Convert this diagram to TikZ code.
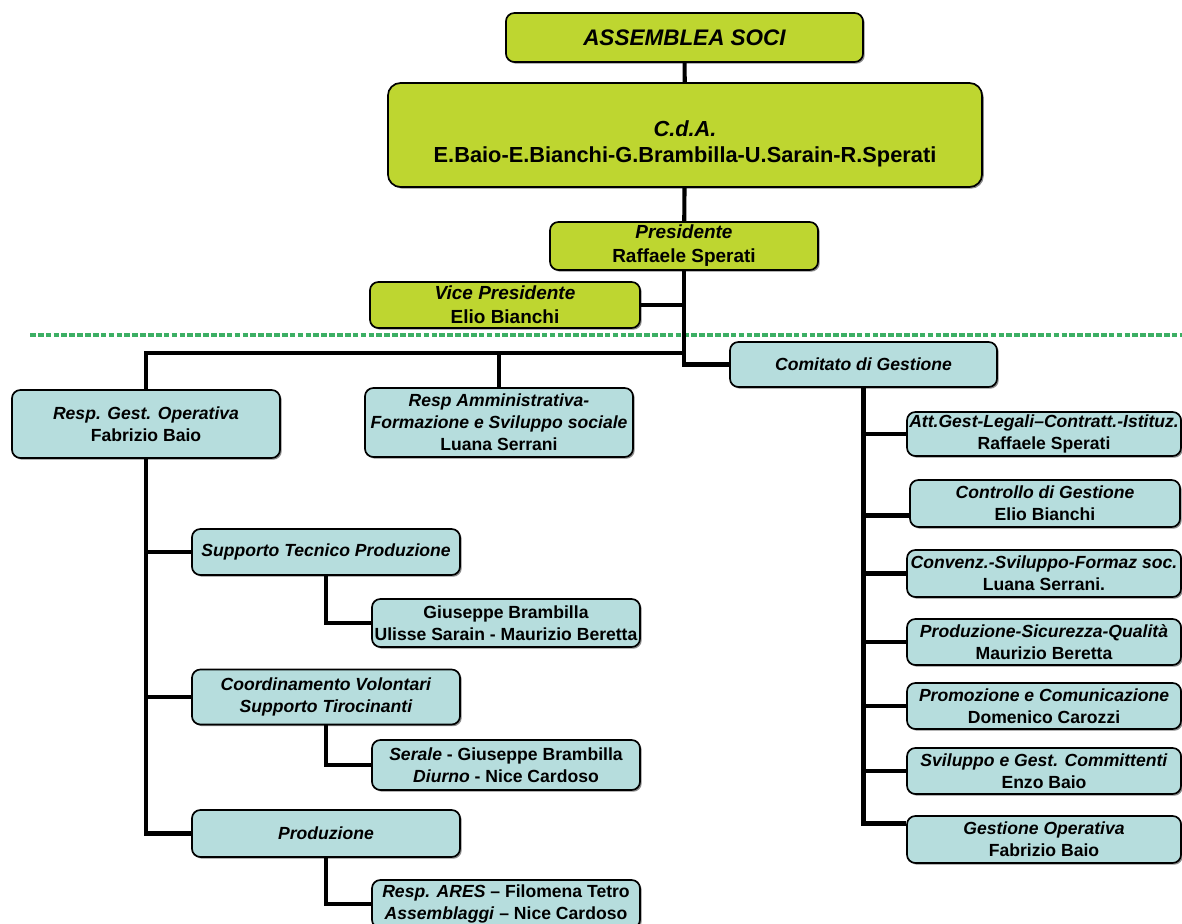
\documentclass[tikz,border=0pt]{standalone}
\usepackage{fontspec}
\setmainfont{Liberation Sans}
\usepackage{tikz}
\usetikzlibrary{shadows}
\usetikzlibrary{positioning}
\definecolor{boardgreen}{RGB}{190,214,48}
\definecolor{staffblue}{RGB}{182,221,221}
\definecolor{sepgreen}{RGB}{60,175,100}

\begin{document}
\begin{tikzpicture}[x=0.025cm,y=-0.025cm,
  box/.style={draw,very thick,rounded corners=6pt,align=center,inner xsep=1pt,inner ysep=0pt,
    font=\fontsize{12.5}{15.5}\selectfont\bfseries,
    drop shadow={shadow xshift=1.2pt,shadow yshift=-1.2pt,fill=black!75,opacity=0.6}},
  top/.style={box,fill=boardgreen},
  staff/.style={box,fill=staffblue},
  link/.style={line width=2.9pt}]
\useasboundingbox (0,0) rectangle (1182,924);

\coordinate (sepL) at (30,335);
\coordinate (sepR) at (1182,335);
\draw[sepgreen,line width=2.4pt,dash pattern=on 4pt off 1.6pt] (sepL)--(sepR);

\node[top,minimum width=8.925cm,minimum height=1.225cm,font=\fontsize{16}{19}\selectfont\bfseries\itshape] (soci) at (684.5,37.5) {ASSEMBLEA SOCI};
\node[top,rounded corners=9pt,minimum width=14.85cm,minimum height=2.6cm,font=\fontsize{15.5}{18.5}\selectfont\bfseries] (cda) at (685,135) {\rule{0pt}{24pt}\textit{C.d.A.}\\E.Baio-E.Bianchi-G.Brambilla-U.Sarain-R.Sperati};
\node[top,minimum width=6.7cm,minimum height=1.2cm,font=\fontsize{13.5}{17}\selectfont\bfseries] (pres) at (684,246) {\textit{Presidente}\\Raffaele Sperati};
\node[top,minimum width=6.75cm,minimum height=1.15cm,font=\fontsize{13.5}{17}\selectfont\bfseries] (vice) at (505,305) {\textit{Vice Presidente}\\Elio Bianchi};

\node[staff,minimum width=6.7cm,minimum height=1.7cm] (gestop) at (146,424) {\textit{Resp. Gest. Operativa}\\Fabrizio Baio};
\node[staff,minimum width=6.7cm,minimum height=1.725cm] (amm) at (499,422.5) {\textit{Resp Amministrativa-}\\\textit{Formazione e Sviluppo sociale}\\Luana Serrani};
\node[staff,minimum width=6.675cm,minimum height=1.125cm] (comitato) at (863.5,364.5) {\textit{Comitato di Gestione}};

\node[staff,minimum width=6.7cm,minimum height=1.15cm] (stp) at (326,552) {\textit{Supporto Tecnico Produzione}};
\node[staff,minimum width=6.7cm,minimum height=1.2cm] (tecnici) at (506,623) {Giuseppe Brambilla\\Ulisse Sarain - Maurizio Beretta};
\node[staff,minimum width=6.7cm,minimum height=1.375cm] (volont) at (326,697) {\textit{Coordinamento Volontari}\\\textit{Supporto Tirocinanti}};
\node[staff,minimum width=6.7cm,minimum height=1.25cm] (serale) at (506,765) {\textit{Serale} - Giuseppe Brambilla\\\textit{Diurno} - Nice Cardoso};
\node[staff,minimum width=6.7cm,minimum height=1.175cm] (prod) at (326,833.5) {\textit{Produzione}};
\node[staff,minimum width=6.7cm,minimum height=1.2cm] (ares) at (506,904) {\textit{Resp. ARES} -- Filomena Tetro\\\textit{Assemblaggi} -- Nice Cardoso};

\node[staff,minimum width=6.85cm,minimum height=1.1cm] (att) at (1044,434) {\textit{Att.Gest-Legali--Contratt.-Istituz.}\\Raffaele Sperati};
\node[staff,minimum width=6.75cm,minimum height=1.175cm] (contr) at (1045,503.5) {\textit{Controllo di Gestione}\\Elio Bianchi};
\node[staff,minimum width=6.85cm,minimum height=1.175cm] (conv) at (1044,573.5) {\textit{Convenz.-Sviluppo-Formaz soc.}\\Luana Serrani.};
\node[staff,minimum width=6.85cm,minimum height=1.15cm] (psq) at (1044,642) {\textit{Produzione-Sicurezza-Qualità}\\Maurizio Beretta};
\node[staff,minimum width=6.85cm,minimum height=1.15cm] (promo) at (1044,706) {\textit{Promozione e Comunicazione}\\Domenico Carozzi};
\node[staff,minimum width=6.85cm,minimum height=1.15cm] (svil) at (1044,771) {\textit{Sviluppo e Gest. Committenti}\\Enzo Baio};
\node[staff,minimum width=6.85cm,minimum height=1.175cm] (gop) at (1044,839.5) {\textit{Gestione Operativa}\\Fabrizio Baio};

\coordinate (bar) at (684,353);
\draw[link] (soci)--(cda);
\draw[link] (cda)--(pres);
\draw[link] (pres.south) |- (comitato.west);
\draw[link] (vice.east)--(vice.east -| pres.south);
\draw[link] (gestop.north) |- (bar);
\draw[link] (amm.north)--(amm.north |- bar);
\draw[link] (gestop.south) |- (prod.west);
\draw[link] (stp.west)--(stp.west -| gestop.south);
\draw[link] (volont.west)--(volont.west -| gestop.south);
\draw[link] (stp.south) |- (tecnici.west);
\draw[link] (volont.south) |- (serale.west);
\draw[link] (prod.south) |- (ares.west);
\draw[link] (comitato.south) |- ([yshift=4mm]gop.west);
\draw[link] ([yshift=-3mm]contr.west)--([yshift=-3mm]contr.west -| comitato.south);
\foreach \n in {att,conv,psq,promo,svil}
  \draw[link] (\n.west)--(\n.west -| comitato.south);
\end{tikzpicture}
\end{document}
